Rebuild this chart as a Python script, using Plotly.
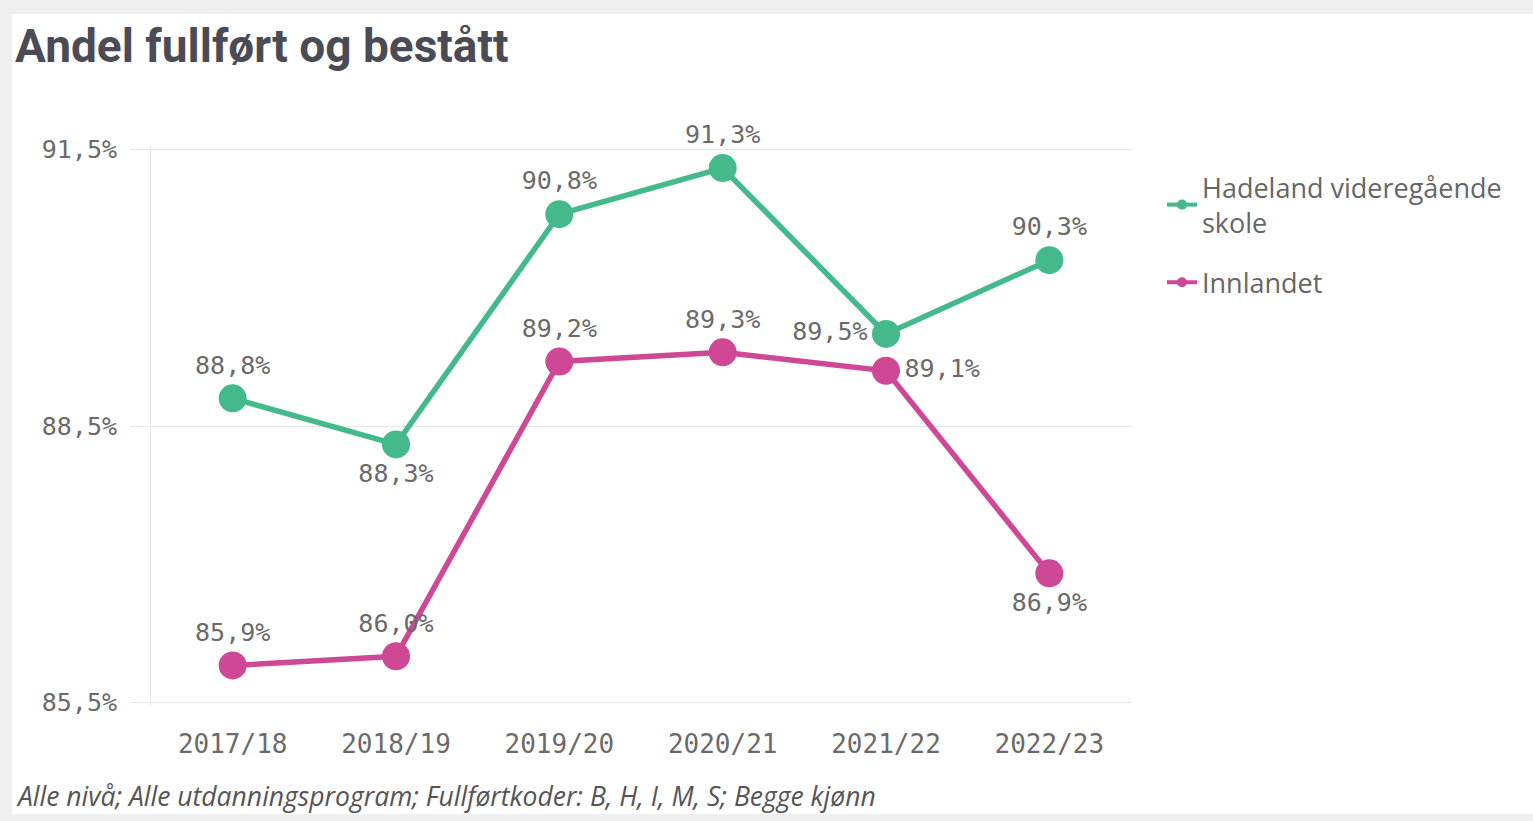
import plotly.graph_objects as go

years = ["2017/18", "2018/19", "2019/20", "2020/21", "2021/22", "2022/23"]
hadeland = [88.8, 88.3, 90.8, 91.3, 89.5, 90.3]
innlandet = [85.9, 86.0, 89.2, 89.3, 89.1, 86.9]
hadeland_pos = ["top center", "bottom center", "top center", "top center", "middle left", "top center"]
innlandet_pos = ["top center", "top center", "top center", "top center", "middle right", "bottom center"]
names = ["Hadeland videregående<br>skole", "Innlandet"]
ytick_vals = [85.5, 88.5, 91.5]
ytick_text = ["85,5%", "88,5%", "91,5%"]

GREEN = "#43b98c"
PINK = "#cf4896"
LABEL = "#6a6a6a"
W, H = 1533, 821
L, R, T, B = 151, 402, 146, 115
PW, PH = W - L - R, H - T - B

def px(x):
    return (x - L) / PW

def py(y):
    return (H - B - y) / PH

fig = go.Figure()
for vals, pos, col in [(hadeland, hadeland_pos, GREEN), (innlandet, innlandet_pos, PINK)]:
    fig.add_trace(go.Scatter(
        x=years, y=vals, mode="lines+markers+text",
        line=dict(color=col, width=5.5),
        marker=dict(color=col, size=28),
        texttemplate="%{y:.1f}%", textposition=pos,
        textfont=dict(family="DejaVu Sans Mono", size=25, color=LABEL),
        showlegend=False, cliponaxis=False, hoverinfo="skip",
    ))
for i, (nm, col) in enumerate(zip(names, [GREEN, PINK])):
    fig.add_trace(go.Scatter(
        x=[None], y=[None], mode="lines+markers", name=nm, legendgroup=f"g{i}",
        line=dict(color=col, width=4), marker=dict(color=col, size=10),
    ))

fig.add_shape(type="rect", xref="paper", yref="paper", layer="below",
              x0=px(12), x1=px(W + 5), y0=py(814), y1=py(14),
              fillcolor="white", line=dict(width=0))

fig.add_annotation(text="<b>Andel fullført og bestått</b>", xref="paper", yref="paper",
                   x=px(13), y=py(46), xanchor="left", yanchor="middle", showarrow=False,
                   font=dict(family="Roboto", size=46, color="#4b4b55"))
fig.add_annotation(text="<i>Alle nivå; Alle utdanningsprogram; Fullførtkoder: B, H, I, M, S; Begge kjønn</i>",
                   xref="paper", yref="paper", x=px(14), y=py(796), xanchor="left", yanchor="middle",
                   showarrow=False, font=dict(family="Open Sans", size=26.5, color="#555555"))

fig.update_layout(
    width=W, height=H, autosize=False,
    margin=dict(l=L, r=R, t=T, b=B),
    paper_bgcolor="#efefef", plot_bgcolor="white",
    separators=",.",
    xaxis=dict(type="category", range=[-0.5, 5.5], showgrid=False, zeroline=False,
               showline=False, ticks="", ticklabelstandoff=20,
               tickfont=dict(family="DejaVu Sans Mono", size=26, color=LABEL)),
    yaxis=dict(range=[85.46, 91.54], tickvals=ytick_vals, ticktext=ytick_text,
               showgrid=True, gridcolor="#e6e6e6", gridwidth=1, zeroline=False,
               showline=True, linecolor="#e6e6e6", linewidth=1,
               ticks="outside", ticklen=20, tickcolor="#e6e6e6", ticklabelstandoff=8,
               tickfont=dict(family="DejaVu Sans Mono", size=25, color=LABEL)),
    legend=dict(x=px(1162), y=py(163), xanchor="left", yanchor="top",
                bgcolor="rgba(0,0,0,0)", tracegroupgap=22,
                font=dict(family="Open Sans", size=27, color="#666666")),
)

fig.write_html("out.html")
